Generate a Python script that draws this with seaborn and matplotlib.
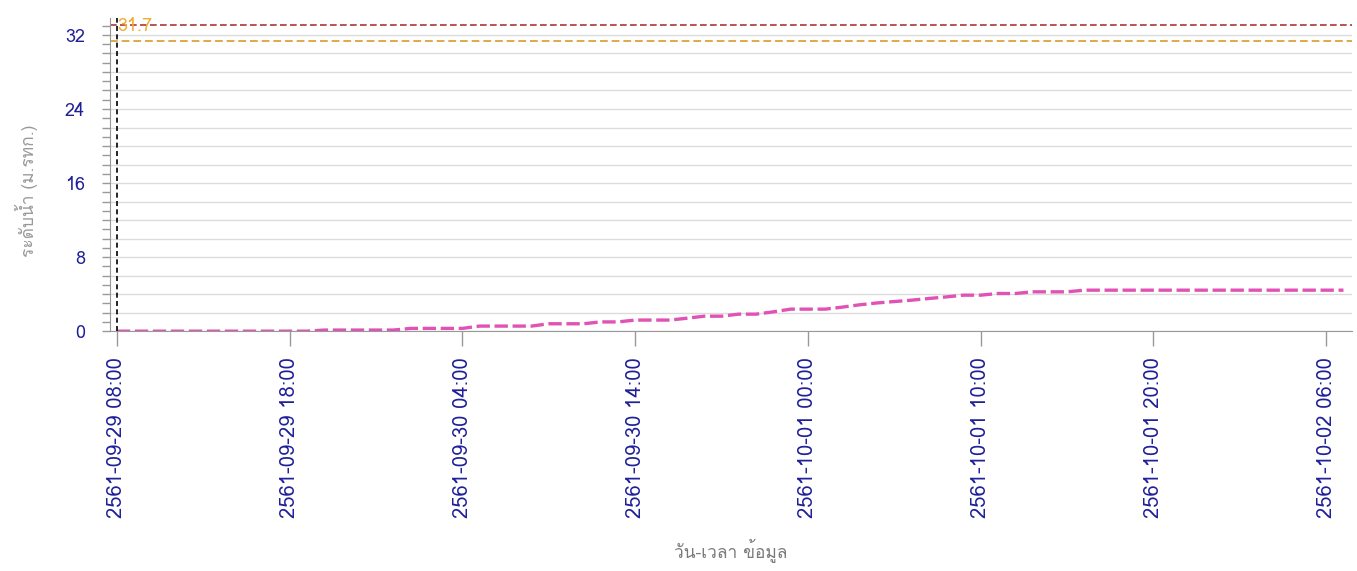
import numpy as np
import pandas as pd
import matplotlib
matplotlib.use("Agg")
import matplotlib.pyplot as plt
import matplotlib.dates as mdates
from matplotlib import font_manager, ft2font
from matplotlib.ticker import MultipleLocator, FuncFormatter, FixedLocator
import seaborn as sns

# hourly water level from 2561-09-29 08:00 (Thai year = 2018 + 543)
start = pd.Timestamp("2018-09-29 08:00")
level = [0.0] * 12 + [0.12] * 5 + [0.3] * 4 + [0.55] * 4 + [0.8] * 3 + [1.0] * 2 \
    + [1.2] * 3 + [1.4] + [1.62] * 2 + [1.84] * 2 + [2.09] + [2.38] * 3 \
    + [2.6, 2.85, 3.05, 3.2, 3.35, 3.53, 3.7] + [3.89] * 2 + [4.07] * 2 \
    + [4.25] * 3 + [4.43] * 16
ground_level = 33.1   # red dashed line
bank_level = 31.35    # orange dashed line
bank_label = "31.7"
y_label = "ระดับน้ำ (ม.รทก.)"
x_label = "วัน-เวลา ข้อมูล"

times = pd.date_range(start, periods=len(level), freq="h")
df = pd.DataFrame({"time": times, "level": level})
tick_times = pd.date_range(start, periods=8, freq="10h")


# find any installed font that has Thai glyphs
def thai_font():
    for f in font_manager.fontManager.ttflist:
        try:
            if ord("ร") in ft2font.FT2Font(f.fname).get_charmap():
                return f.name
        except Exception:
            pass
    return None


sns.set_style("white")
th = thai_font()
plt.rcParams["font.family"] = ([th] if th else []) + ["DejaVu Sans"]

fig = plt.figure(figsize=(13.57, 5.71), dpi=100)
ax = fig.add_axes([0.081, 0.42, 0.915, 0.548])

sns.lineplot(data=df, x="time", y="level", ax=ax, color="#e052b5",
             linewidth=2.4, linestyle=(0, (4, 1.4)))
ax.axhline(ground_level, color="#b03535", linewidth=1.2, linestyle=(0, (4, 2)))
ax.axhline(bank_level, color="#e2a848", linewidth=1.4, linestyle=(0, (4, 2)))
ax.axvline(start, color="black", linewidth=1.2, linestyle=(0, (3, 2)))
ax.text(start, 33.9, bank_label, color="#f0ac30", fontsize=13,
        va="top", ha="left")

ax.set_xlim(start - pd.Timedelta(hours=0.4), start + pd.Timedelta(hours=71.47))
ax.set_ylim(0, 33.8)

ax.xaxis.set_major_locator(FixedLocator(mdates.date2num(tick_times)))
ax.xaxis.set_major_formatter(FuncFormatter(
    lambda v, p: f"{mdates.num2date(v).year + 543}-{mdates.num2date(v):%m-%d %H:%M}"))
ax.yaxis.set_major_locator(MultipleLocator(2))
ax.yaxis.set_minor_locator(MultipleLocator(1))
ax.yaxis.set_major_formatter(FuncFormatter(lambda v, p: f"{v:.0f}" if v % 8 == 0 else ""))

ax.grid(axis="y", which="major", color="#dcdcdc", linewidth=1)
ax.tick_params(axis="x", rotation=90, labelsize=14.5, labelcolor="#1f1f99",
               color="#999999", length=11, width=1, direction="out", bottom=True,
               pad=8)
ax.tick_params(axis="y", which="both", labelsize=13, labelcolor="#1f1f99",
               color="#999999", length=6, width=1, direction="out", left=True,
               pad=12)
for s in ["top", "right"]:
    ax.spines[s].set_visible(False)
for s in ["left", "bottom"]:
    ax.spines[s].set_color("#999999")

ax.set_xlabel(x_label, color="#7a7a7a", fontsize=12.5, labelpad=14)
ax.set_ylabel(y_label, color="#999999", fontsize=12.5, labelpad=18)
ax.yaxis.set_label_coords(-0.058, 0.45)

fig.savefig("out.png", dpi=100)
